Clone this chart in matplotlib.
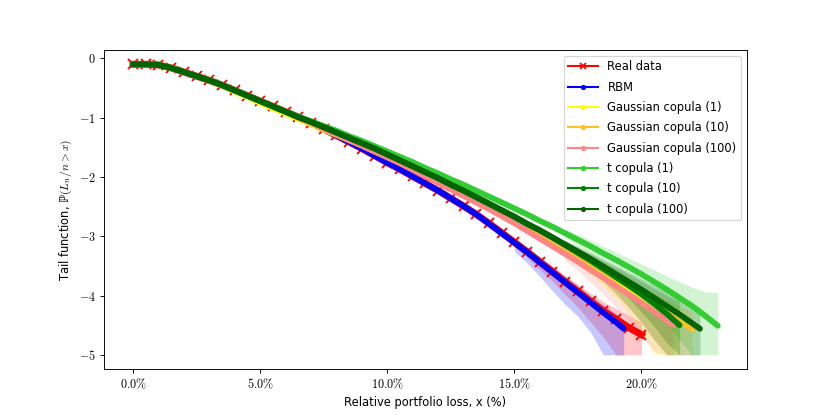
import matplotlib
matplotlib.use('Agg')
import matplotlib.pyplot as plt
import numpy as np
from matplotlib.lines import Line2D
from matplotlib.ticker import FuncFormatter, MultipleLocator

plt.rcParams['font.family'] = 'DejaVu Sans'
plt.rcParams['mathtext.fontset'] = 'cm'

# Förlustgrid i procent (steg 0.5 %)
loss_grid = np.arange(0, 23.01, 0.5)

labels = ['Real data', 'RBM', 'Gaussian copula (1)', 'Gaussian copula (10)',
          'Gaussian copula (100)', 't copula (1)', 't copula (10)', 't copula (100)']
colors = ['red', 'blue', 'yellow', '#ffc125', '#ff8585', 'limegreen', 'green', 'darkgreen']

# log10 av svansfunktionen
real_data = [-0.10, -0.10, -0.11, -0.16, -0.23, -0.30, -0.37, -0.45, -0.54, -0.63, -0.72, -0.81,
             -0.90, -0.99, -1.09, -1.19, -1.30, -1.41, -1.52, -1.64, -1.76, -1.87, -1.99, -2.11,
             -2.23, -2.36, -2.49, -2.63, -2.78, -2.94, -3.10, -3.26, -3.43, -3.60, -3.77, -3.93,
             -4.10, -4.26, -4.40, -4.54, -4.66]
rbm = [-0.10, -0.10, -0.11, -0.16, -0.23, -0.30, -0.37, -0.45, -0.54, -0.63, -0.72, -0.81,
       -0.90, -0.99, -1.09, -1.19, -1.30, -1.41, -1.52, -1.64, -1.76, -1.87, -1.99, -2.11,
       -2.23, -2.36, -2.49, -2.63, -2.79, -2.95, -3.11, -3.27, -3.44, -3.61, -3.78, -3.95,
       -4.12, -4.29, -4.45, -4.56]
gauss_1 = [-0.10, -0.10, -0.11, -0.16, -0.23, -0.30, -0.37, -0.46, -0.56, -0.65, -0.75, -0.84,
           -0.93, -1.02, -1.11, -1.20, -1.29, -1.38, -1.47, -1.57, -1.66, -1.76, -1.86, -1.97,
           -2.07, -2.18, -2.29, -2.40, -2.51, -2.63, -2.74, -2.86, -2.98, -3.10, -3.23, -3.36,
           -3.49, -3.62, -3.76, -3.90, -4.04, -4.18, -4.33, -4.48]
gauss_10 = [-0.10, -0.10, -0.11, -0.16, -0.23, -0.30, -0.37, -0.45, -0.54, -0.63, -0.72, -0.81,
            -0.90, -1.00, -1.09, -1.18, -1.27, -1.36, -1.45, -1.55, -1.65, -1.75, -1.85, -1.96,
            -2.06, -2.17, -2.28, -2.39, -2.50, -2.61, -2.72, -2.84, -2.96, -3.08, -3.20, -3.32,
            -3.45, -3.58, -3.71, -3.84, -3.98, -4.12, -4.27, -4.42, -4.57]
gauss_100 = [-0.10, -0.10, -0.11, -0.16, -0.23, -0.30, -0.37, -0.45, -0.54, -0.63, -0.72, -0.81,
             -0.90, -1.00, -1.09, -1.19, -1.28, -1.38, -1.47, -1.57, -1.67, -1.77, -1.88, -1.99,
             -2.10, -2.21, -2.32, -2.43, -2.54, -2.66, -2.78, -2.91, -3.04, -3.17, -3.30, -3.43,
             -3.57, -3.70, -3.84, -3.98, -4.12, -4.27, -4.42, -4.50]
t_1 = [-0.10, -0.10, -0.11, -0.16, -0.23, -0.30, -0.37, -0.45, -0.54, -0.63, -0.72, -0.81,
       -0.90, -0.98, -1.06, -1.14, -1.22, -1.31, -1.39, -1.48, -1.57, -1.66, -1.75, -1.85,
       -1.94, -2.04, -2.13, -2.23, -2.33, -2.43, -2.53, -2.63, -2.74, -2.84, -2.95, -3.06,
       -3.17, -3.29, -3.40, -3.52, -3.64, -3.77, -3.90, -4.04, -4.18, -4.34, -4.51]
t_10 = [-0.10, -0.10, -0.11, -0.16, -0.23, -0.30, -0.37, -0.45, -0.54, -0.63, -0.72, -0.81,
        -0.90, -0.99, -1.07, -1.16, -1.25, -1.34, -1.43, -1.52, -1.62, -1.72, -1.82, -1.92,
        -2.02, -2.13, -2.23, -2.34, -2.45, -2.56, -2.67, -2.79, -2.90, -3.02, -3.15, -3.28,
        -3.41, -3.55, -3.69, -3.83, -3.98, -4.14, -4.31, -4.50]
t_100 = [-0.10, -0.10, -0.11, -0.16, -0.23, -0.30, -0.37, -0.45, -0.54, -0.63, -0.72, -0.81,
         -0.90, -0.99, -1.07, -1.16, -1.25, -1.34, -1.43, -1.52, -1.62, -1.72, -1.82, -1.92,
         -2.02, -2.13, -2.23, -2.34, -2.45, -2.56, -2.67, -2.79, -2.90, -3.02, -3.14, -3.26,
         -3.38, -3.51, -3.64, -3.77, -3.90, -4.04, -4.18, -4.32, -4.47, -4.56]
series = [real_data, rbm, gauss_1, gauss_10, gauss_100, t_1, t_10, t_100]

# sista x-värdet för serier som slutar mellan gridpunkter
end_x = [None, 19.3, None, None, 21.25, None, None, 22.3]

# konfidensband i svansen: startpunkt, övre och undre gräns
band_start = [15.0, 15.0, 17.0, 17.0, 17.0, 17.0, 17.0, 17.0]
band_hi = [
    [-3.04, -3.19, -3.35, -3.50, -3.66, -3.81, -3.96, -4.10, -4.22, -4.34, -4.45],
    [-3.05, -3.20, -3.36, -3.52, -3.68, -3.84, -4.00, -4.16, -4.30, -4.40],
    [-3.17, -3.29, -3.41, -3.53, -3.66, -3.78, -3.90, -4.02, -4.14, -4.25],
    [-3.14, -3.25, -3.37, -3.49, -3.61, -3.72, -3.84, -3.96, -4.07, -4.18, -4.28],
    [-3.25, -3.37, -3.50, -3.63, -3.76, -3.89, -4.02, -4.16, -4.30, -4.37],
    [-2.88, -2.97, -3.07, -3.17, -3.27, -3.37, -3.47, -3.57, -3.67, -3.77, -3.86, -3.94, -3.95],
    [-3.08, -3.19, -3.30, -3.42, -3.53, -3.64, -3.76, -3.88, -4.00, -4.10],
    [-3.07, -3.17, -3.28, -3.39, -3.50, -3.61, -3.72, -3.83, -3.94, -4.05, -4.15, -4.20],
]
band_lo = [
    [-3.18, -3.36, -3.56, -3.76, -3.98, -4.20, -4.45, -4.70, -5.00, -5.00, -5.00],
    [-3.25, -3.45, -3.68, -3.92, -4.15, -4.35, -4.62, -5.00, -5.00, -5.00],
    [-3.33, -3.48, -3.65, -3.84, -4.05, -4.30, -4.60, -5.00, -5.00, -5.00],
    [-3.30, -3.44, -3.60, -3.78, -3.98, -4.20, -4.45, -4.75, -5.00, -5.00, -5.00],
    [-3.42, -3.58, -3.78, -3.98, -4.20, -4.42, -4.68, -4.95, -5.00, -5.00],
    [-3.03, -3.16, -3.30, -3.45, -3.62, -3.80, -4.00, -4.22, -4.46, -4.75, -5.00, -5.00, -5.00],
    [-3.25, -3.40, -3.57, -3.76, -3.97, -4.20, -4.45, -4.75, -5.00, -5.00],
    [-3.22, -3.36, -3.51, -3.67, -3.85, -4.05, -4.28, -4.52, -4.80, -5.00, -5.00, -5.00],
]


def x_for(n, last):
    xs = list(loss_grid[:n])
    if last is not None:
        xs[-1] = last
    return np.array(xs)


fig, ax = plt.subplots(figsize=(10, 5), dpi=83)

handles = []
for i, y in enumerate(series):
    xs = x_for(len(y), end_x[i])
    # band
    k0 = int(round(band_start[i] / 0.5))
    bx = xs[k0:k0 + len(band_hi[i])]
    ax.fill_between(bx, band_lo[i], band_hi[i], color=colors[i],
                    alpha=0.22, linewidth=0, zorder=1)
    if i == 0:
        ax.plot(xs, y, color=colors[i], linewidth=6, marker='x', markersize=8,
                markeredgewidth=1.6, zorder=2)
        handles.append(Line2D([], [], color=colors[i], linewidth=1.8, marker='x',
                              markersize=6, markeredgewidth=1.5))
    else:
        ax.plot(xs, y, color=colors[i], linewidth=5, solid_capstyle='round', zorder=2)
        handles.append(Line2D([], [], color=colors[i], linewidth=1.8, marker='.',
                              markersize=7))

ax.xaxis.set_major_locator(MultipleLocator(5))
ax.xaxis.set_major_formatter(FuncFormatter(lambda v, p: r'$%.1f\%%$' % v))
ax.yaxis.set_major_locator(MultipleLocator(1))
ax.yaxis.set_major_formatter(FuncFormatter(lambda v, p: r'$%d$' % round(v)))
ax.tick_params(labelsize=10.5)

ax.set_xlabel('Relative portfolio loss, x (%)', fontsize=10)
ax.set_ylabel('Tail function, ℙ' + r'$(L_n/n > x)$', fontsize=10)

ax.legend(handles, labels, loc='upper right', fontsize=10, handlelength=2.6,
          labelspacing=0.64)

plt.savefig('out.png', dpi=83)
plt.close()
